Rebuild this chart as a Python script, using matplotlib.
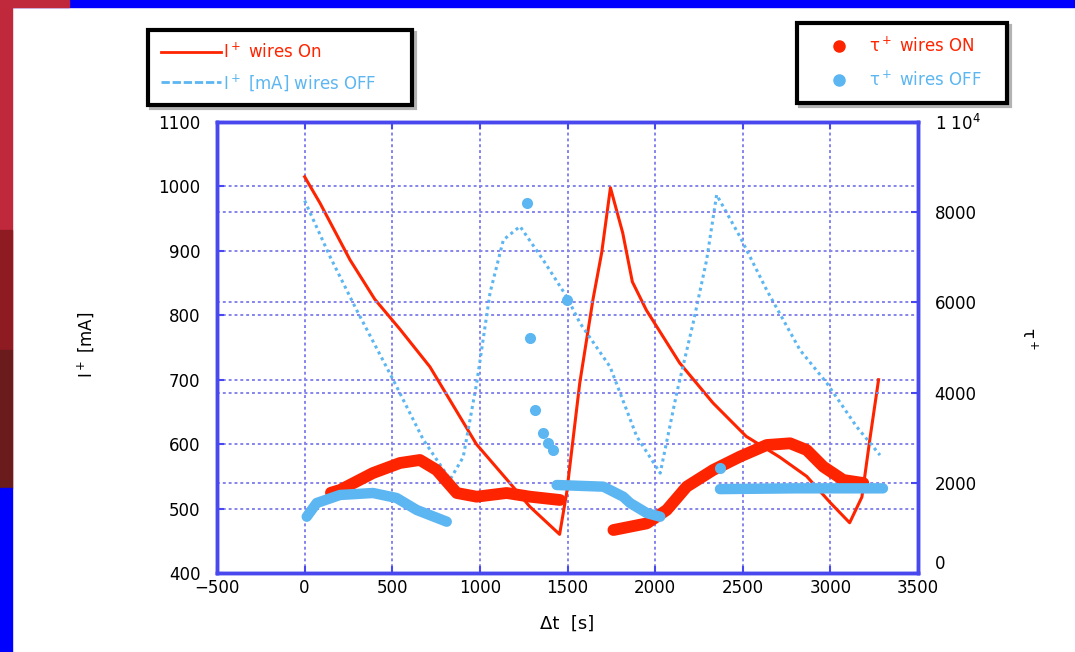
import numpy as np
import matplotlib
matplotlib.use('Agg')
import matplotlib.pyplot as plt
from matplotlib.lines import Line2D
from matplotlib.patches import Rectangle

# I+ with wires ON (left axis)
on_t = [0, 88, 259, 400, 545, 715, 980, 1170, 1285, 1455, 1495, 1570, 1645, 1695, 1745,
        1815, 1870, 1950, 2140, 2330, 2520, 2710, 2865, 3000, 3110, 3180, 3225, 3275]
on_i = [1015, 974, 886, 825, 778, 720, 600, 540, 503, 460, 524, 695, 824, 897, 998,
        928, 852, 808, 726, 664, 612, 580, 550, 509, 478, 518, 607, 700]

# I+ with wires OFF (left axis)
off_t = [0, 145, 297, 505, 677, 830, 905, 982, 1058, 1134, 1229, 1361, 1495, 1571, 1743,
         1895, 2029, 2123, 2217, 2294, 2351, 2484, 2637, 2827, 2979, 3150, 3283]
off_i = [978, 891, 808, 700, 607, 545, 580, 695, 835, 917, 938, 886, 829, 788, 720,
         612, 555, 679, 788, 886, 987, 922, 839, 746, 695, 627, 583]

# tau, wires ON (right axis)
ton1_t = [150, 202, 390, 544, 658, 753, 868, 982, 1153, 1286, 1457]
ton1_v = [1780, 1840, 2217, 2439, 2506, 2284, 1774, 1692, 1774, 1692, 1619]
ton2_t = [1762, 1952, 2066, 2180, 2331, 2484, 2637, 2770, 2865, 2960, 3074, 3188]
ton2_v = [953, 1100, 1397, 1914, 2284, 2580, 2838, 2876, 2727, 2357, 2062, 1995]

# tau, wires OFF (right axis)
toff1_t = [12, 69, 202, 390, 525, 640, 811]
toff1_v = [1248, 1552, 1730, 1774, 1663, 1397, 1138]
toff2_t = [1438, 1705, 1818, 1857, 1952, 2029]
toff2_v = [1951, 1914, 1692, 1552, 1330, 1248]
toff3_t = [2370, 2800, 3300]
toff3_v = [1860, 1877, 1877]
toff_pts_t = [1267, 1286, 1315, 1362, 1391, 1419, 1495, 2370]
toff_pts_v = [8197, 5204, 3614, 3104, 2882, 2727, 6053, 2330]

x_ticks = [-500, 0, 500, 1000, 1500, 2000, 2500, 3000, 3500]
left_ticks = [400, 500, 600, 700, 800, 900, 1000, 1100]
right_ticks = [0, 2000, 4000, 6000, 8000, 10000]
right_labels = ['0', '2000', '4000', '6000', '8000', '1 10$^4$']

RED = '#ff2400'
BLUE = '#5cb6f2'
AXBLUE = '#4848ee'
GRID = '#8585ec'

W, H = 1075, 652
fig = plt.figure(figsize=(W / 100, H / 100), dpi=100, facecolor='white')

# slide decoration
def frect(x, y, w, h, c):
    fig.patches.append(Rectangle((x / W, 1 - (y + h) / H), w / W, h / H,
                                 transform=fig.transFigure, color=c, zorder=0))

frect(0, 0, W, 7, '#0000ff')
frect(0, 0, 69, 7, '#c0283c')
frect(0, 0, 12, 488, '#c0283c')
frect(0, 230, 12, 120, '#8e1a22')
frect(0, 350, 12, 138, '#6a1c1c')
frect(0, 488, 12, H - 488, '#0000ff')

ax = fig.add_axes([217 / W, 1 - 573 / H, 701 / W, 451 / H])
ax2 = ax.twinx()

ax.plot(on_t, on_i, color=RED, lw=2.2)
ax.plot(off_t, off_i, color=BLUE, lw=2.2, ls=(0, (1, 1.2)))

for t, v in [(ton1_t, ton1_v), (ton2_t, ton2_v)]:
    ax2.plot(t, v, color=RED, lw=8.5, solid_capstyle='round', solid_joinstyle='round')
for t, v in [(toff1_t, toff1_v), (toff2_t, toff2_v), (toff3_t, toff3_v)]:
    ax2.plot(t, v, color=BLUE, lw=7.5, solid_capstyle='round', solid_joinstyle='round')
ax2.plot(toff_pts_t, toff_pts_v, 'o', color=BLUE, ms=8, mec='none')

ax.set_xlim(-500, 3500)
ax.set_ylim(400, 1100)
ax2.set_ylim(0, 10000)
ax.set_xticks(x_ticks)
ax.set_yticks(left_ticks)
ax2.set_yticks(right_ticks)
ax2.set_yticklabels(right_labels)

for a in (ax, ax2):
    a.grid(True, color=GRID, ls=(0, (1.5, 1.5)), lw=1.4)
    for s in a.spines.values():
        s.set_color(AXBLUE)
        s.set_linewidth(2.5)
ax2.xaxis.grid(False)

ax.tick_params(axis='x', direction='in', top=True, length=5, width=1.5, color=AXBLUE,
               labelsize=12, pad=4)
ax.tick_params(axis='y', direction='in', length=5, width=1.5, color=AXBLUE,
               labelsize=12, pad=12)
ax2.tick_params(axis='y', direction='in', length=5, width=1.5, color=AXBLUE,
                labelsize=12, pad=12)
# the right "0" sits just above the x tick labels
ax2.yaxis.get_major_ticks()[0].label2.set_va('bottom')

ax.set_xlabel('Δt  [s]', fontsize=13)
ax.xaxis.set_label_coords(0.5, -0.093)
ax.set_ylabel('I$^+$ [mA]', fontsize=12)
ax.yaxis.set_label_coords(-0.172, 0.506)
ax2.set_ylabel('τ$^+$', fontsize=12, rotation=-90)
ax2.yaxis.set_label_coords(1.171, 0.52)

# legends
h1 = [Line2D([], [], color=RED, lw=2),
      Line2D([], [], color=BLUE, lw=2, ls=(0, (3, 1)))]
leg1 = fig.legend(h1, ['I$^+$ wires On', 'I$^+$ [mA] wires OFF'], loc='upper left',
                  bbox_to_anchor=(148 / W, 1 - 30 / H - 0.01, 264 / W, 0.01), mode='expand',
                  borderaxespad=0, fontsize=12, handlelength=3.6, handletextpad=0.15,
                  labelspacing=0.6, borderpad=0.75, fancybox=False,
                  shadow={'color': '0.7', 'alpha': 1})
h2 = [Line2D([], [], color=RED, marker='o', ls='none', ms=8),
      Line2D([], [], color=BLUE, marker='o', ls='none', ms=8)]
leg2 = fig.legend(h2, ['τ$^+$ wires ON', 'τ$^+$ wires OFF'], loc='upper left',
                  bbox_to_anchor=(797 / W, 1 - 23 / H - 0.01, 210 / W, 0.01), mode='expand',
                  borderaxespad=0, fontsize=12, handlelength=3.4, handletextpad=0.1,
                  labelspacing=0.9, borderpad=0.8, fancybox=False,
                  shadow={'color': '0.7', 'alpha': 1})
for leg in (leg1, leg2):
    fr = leg.get_frame()
    fr.set_edgecolor('black')
    fr.set_linewidth(3)
    t = leg.get_texts()
    t[0].set_color(RED)
    t[1].set_color(BLUE)

fig.savefig('out.png', dpi=100, facecolor='white')
